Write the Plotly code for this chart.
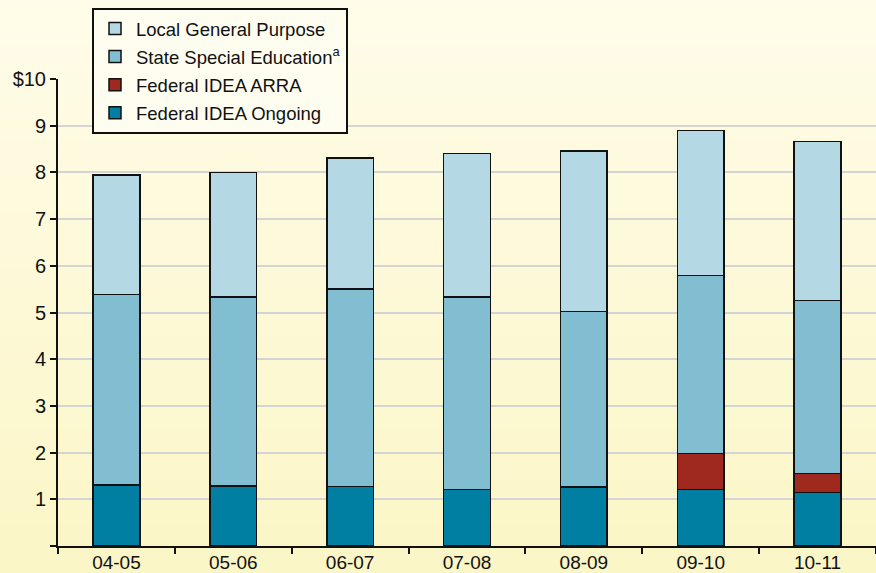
import base64
import struct
import zlib

import plotly.graph_objects as go

# ---- data ----
years = ["04-05", "05-06", "06-07", "07-08", "08-09", "09-10", "10-11"]
federal_ongoing = [1.31, 1.29, 1.27, 1.21, 1.26, 1.21, 1.15]
federal_arra = [0, 0, 0, 0, 0, 0.77, 0.40]
state_special = [4.08, 4.04, 4.23, 4.12, 3.76, 3.81, 3.71]
local_general = [2.55, 2.67, 2.81, 3.07, 3.44, 3.11, 3.40]

y_tickvals = [0, 1, 2, 3, 4, 5, 6, 7, 8, 9, 10]
y_ticktext = ["", "1", "2", "3", "4", "5", "6", "7", "8", "9", "$10"]

colors = {
    "ongoing": "#007FA3",
    "arra": "#A0291F",
    "state": "#81BED1",
    "local": "#B4D8E4",
}


# ---- vertical gradient background (decorative) ----
def gradient_png(top, bottom, h=256):
    rows = b""
    for i in range(h):
        t = i / (h - 1)
        c = [round(top[k] + (bottom[k] - top[k]) * t) for k in range(3)]
        rows += b"\x00" + bytes(c)

    def chunk(tag, data):
        return (struct.pack(">I", len(data)) + tag + data
                + struct.pack(">I", zlib.crc32(tag + data) & 0xFFFFFFFF))

    png = b"\x89PNG\r\n\x1a\n"
    png += chunk(b"IHDR", struct.pack(">IIBBBBB", 1, h, 8, 2, 0, 0, 0))
    png += chunk(b"IDAT", zlib.compress(rows))
    png += chunk(b"IEND", b"")
    return "data:image/png;base64," + base64.b64encode(png).decode()


bg = gradient_png((255, 252, 233), (251, 246, 198))

W, H = 876, 573
L, R, T, B = 58, 0, 79, 27
pw, ph = W - L - R, H - T - B

fig = go.Figure()


def nz(vals):
    return [v if v else None for v in vals]


line = dict(color="#111111", width=1.5)
fig.add_trace(go.Bar(x=years, y=federal_ongoing, name="Federal IDEA Ongoing",
                     legendgroup="g1", legendrank=4,
                     marker=dict(color=colors["ongoing"], line=line)))
fig.add_trace(go.Bar(x=years, y=nz(federal_arra), name="Federal IDEA ARRA",
                     legendgroup="g2", legendrank=3,
                     marker=dict(color=colors["arra"], line=line)))
fig.add_trace(go.Bar(x=years, y=state_special, name="State Special Education<sup>a</sup>",
                     legendgroup="g3", legendrank=2,
                     marker=dict(color=colors["state"], line=line)))
fig.add_trace(go.Bar(x=years, y=local_general, name="Local General Purpose",
                     legendgroup="g4", legendrank=1,
                     marker=dict(color=colors["local"], line=line)))

fig.update_layout(
    width=W, height=H,
    margin=dict(l=L, r=R, t=T, b=B, autoexpand=False),
    barmode="stack",
    bargap=0.6,
    paper_bgcolor="rgba(0,0,0,0)",
    plot_bgcolor="rgba(0,0,0,0)",
    font=dict(family="Liberation Sans, Arial, Helvetica, sans-serif", color="#111111"),
    showlegend=True,
    legend=dict(
        x=(92 - L) / pw, y=(H - B - 8) / ph,
        xanchor="left", yanchor="top",
        traceorder="grouped",
        tracegroupgap=1,
        itemwidth=32,
        bgcolor="#FFFDF0",
        bordercolor="#111111", borderwidth=2,
        font=dict(size=18.5, color="#111111"),
    ),
    images=[dict(
        source=bg, xref="paper", yref="paper",
        x=-L / pw, y=(ph + T) / ph, sizex=W / pw, sizey=H / ph,
        xanchor="left", yanchor="top", sizing="stretch", layer="below",
    )],
    xaxis=dict(
        type="category",
        range=[-0.5, 6.5],
        showline=True, linecolor="#111111", linewidth=2,
        ticks="outside", tickson="boundaries", ticklen=6, tickwidth=2,
        tickcolor="#111111",
        tickfont=dict(size=19, color="#111111"),
        ticklabelstandoff=-2,
        showgrid=False, zeroline=False,
    ),
    yaxis=dict(
        range=[0, 10],
        tickvals=y_tickvals, ticktext=y_ticktext,
        showline=True, linecolor="#111111", linewidth=2,
        ticks="outside", ticklen=6, tickwidth=2, tickcolor="#111111",
        tickfont=dict(size=20, color="#111111"),
        showgrid=True, gridcolor="#D4D4D4", gridwidth=2,
        zeroline=False,
    ),
)

fig.write_html(
    "out.html",
    config={"displayModeBar": False},
    post_script="document.body.style.margin='0';document.body.style.overflow='hidden';",
)
